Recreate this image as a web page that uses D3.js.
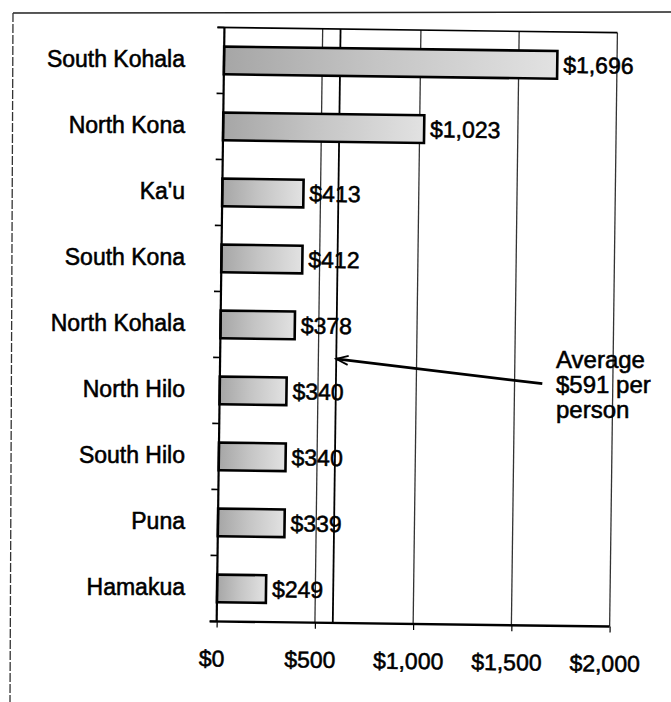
<!DOCTYPE html>
<html>
<head>
<meta charset="utf-8">
<script src="https://cdn.jsdelivr.net/npm/d3@7"></script>
<style>
  html, body { margin: 0; padding: 0; background: #fff; }
  text { font-family: "Liberation Sans", Arial, sans-serif; fill: #000; stroke: #000; stroke-width: 0.55px; }
</style>
</head>
<body>
<script>
// ---- data ----
const categories = ["South Kohala", "North Kona", "Ka'u", "South Kona", "North Kohala",
                    "North Hilo", "South Hilo", "Puna", "Hamakua"];
const values = [1696, 1023, 413, 412, 378, 340, 340, 339, 249];
const xTicks = [0, 500, 1000, 1500, 2000];
const average = 591;
const annotationLines = ["Average", "$591 per", "person"];

const W = 671, H = 702;
const svg = d3.select("body").append("svg").attr("width", W).attr("height", H);
svg.append("rect").attr("width", W).attr("height", H).attr("fill", "#fff");

const defs = svg.append("defs");
const grad = defs.append("linearGradient").attr("id", "barGrad")
  .attr("x1", "0").attr("y1", "0").attr("x2", "1").attr("y2", "0");
grad.append("stop").attr("offset", "0").attr("stop-color", "#a6a6a6");
grad.append("stop").attr("offset", "0.45").attr("stop-color", "#c4c4c4");
grad.append("stop").attr("offset", "1").attr("stop-color", "#e2e2e2");

const marker = defs.append("marker").attr("id", "arrowHead")
  .attr("viewBox", "-14 -6 16 12").attr("refX", 0).attr("refY", 0)
  .attr("markerWidth", 16).attr("markerHeight", 12)
  .attr("markerUnits", "userSpaceOnUse").attr("orient", "auto");
marker.append("path").attr("d", "M-12,-4.5 L0,0 L-12,4.5")
  .attr("fill", "none").attr("stroke", "#000").attr("stroke-width", 1.8);

// outer frame (scanned page border)
svg.append("line").attr("x1", 13).attr("x2", W).attr("y1", 13).attr("y2", 12)
  .attr("stroke", "#222").attr("stroke-width", 1.5);
svg.append("line").attr("x1", 13).attr("x2", 10).attr("y1", 13).attr("y2", H)
  .attr("stroke", "#333").attr("stroke-width", 1.3).attr("stroke-dasharray", "9,2");

// scales
const x = d3.scaleLinear().domain([0, 2000]).range([220.5, 613.5]);
const y = d3.scaleBand().domain(categories).range([30, 624])
  .paddingInner(0.58).paddingOuter(0.29);
const step = y.step();

// plot group, slightly rotated like the scan
const g = svg.append("g").attr("transform", "rotate(0.75,415,330)");

// gridlines
g.selectAll("line.grid").data(xTicks.filter(d => d > 0)).join("line")
  .attr("class", "grid")
  .attr("x1", d => x(d)).attr("x2", d => x(d))
  .attr("y1", 30).attr("y2", 624)
  .attr("stroke", "#333").attr("stroke-width", 1.3);

// average line
g.append("line").attr("x1", x(average)).attr("x2", x(average))
  .attr("y1", 30).attr("y2", 624)
  .attr("stroke", "#000").attr("stroke-width", 1.8);

// top border of plot
g.append("line").attr("x1", x(0) - 7).attr("x2", x(2000))
  .attr("y1", 30).attr("y2", 30)
  .attr("stroke", "#000").attr("stroke-width", 1.6);

// bars
g.selectAll("rect.bar").data(values).join("rect")
  .attr("class", "bar")
  .attr("x", x(0))
  .attr("y", (d, i) => y(categories[i]))
  .attr("width", d => x(d) - x(0))
  .attr("height", y.bandwidth())
  .attr("fill", "url(#barGrad)")
  .attr("stroke", "#000").attr("stroke-width", 2.6);

// value labels
g.selectAll("text.val").data(values).join("text")
  .attr("class", "val")
  .attr("x", d => x(d) + 6)
  .attr("y", (d, i) => y(categories[i]) + y.bandwidth() / 2 + 8)
  .attr("font-size", 23)
  .text(d => "$" + d3.format(",")(d));

// left axis line + boundary ticks
g.append("line").attr("x1", x(0)).attr("x2", x(0)).attr("y1", 30).attr("y2", 624)
  .attr("stroke", "#000").attr("stroke-width", 2.2);
g.selectAll("line.ytick").data(d3.range(categories.length + 1)).join("line")
  .attr("class", "ytick")
  .attr("x1", x(0) - 7).attr("x2", x(0))
  .attr("y1", k => 30 + k * step).attr("y2", k => 30 + k * step)
  .attr("stroke", "#000").attr("stroke-width", 1.6);

// bottom axis
const xAxis = d3.axisBottom(x).tickValues(xTicks)
  .tickFormat(d => "$" + d3.format(",")(d))
  .tickSize(6).tickPadding(22.7);
const ax = g.append("g").attr("transform", "translate(0,624)").call(xAxis);
ax.select(".domain").remove();
ax.selectAll(".tick line").attr("stroke", "#000").attr("stroke-width", 1.2);
ax.selectAll(".tick text").attr("font-size", 23).attr("dx", -5)
  .attr("font-family", "Liberation Sans, Arial, sans-serif").attr("fill", "#000");
g.append("line").attr("x1", x(0) - 7).attr("x2", x(2000)).attr("y1", 624).attr("y2", 624)
  .attr("stroke", "#000").attr("stroke-width", 2.4);

// annotation arrow
g.append("line").attr("x1", 543).attr("y1", 382)
  .attr("x2", x(average)).attr("y2", 360)
  .attr("stroke", "#000").attr("stroke-width", 2.8)
  .attr("marker-end", "url(#arrowHead)");

// category labels
svg.selectAll("text.cat").data(categories).join("text")
  .attr("class", "cat")
  .attr("x", 185)
  .attr("y", d => y(d) + y.bandwidth() / 2 + 4)
  .attr("text-anchor", "end")
  .attr("font-size", 23)
  .text(d => d);

// annotation text
svg.selectAll("text.note").data(annotationLines).join("text")
  .attr("class", "note")
  .attr("x", 556)
  .attr("y", (d, i) => 368 + i * 25)
  .attr("font-size", 24)
  .text(d => d);
</script>
</body>
</html>
